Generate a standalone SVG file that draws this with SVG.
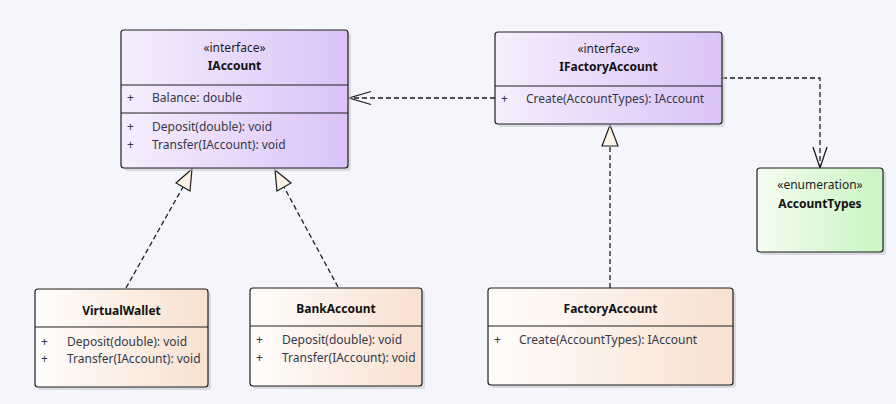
<svg xmlns="http://www.w3.org/2000/svg" width="896" height="404" viewBox="0 0 896 404">
  <defs>
    <linearGradient id="gIface" x1="0" y1="0" x2="1" y2="0">
      <stop offset="0" stop-color="#f6eefd"/>
      <stop offset="1" stop-color="#dbc3f7"/>
    </linearGradient>
    <linearGradient id="gClass" x1="0" y1="0" x2="1" y2="0">
      <stop offset="0" stop-color="#fffdfb"/>
      <stop offset="1" stop-color="#f8e1d0"/>
    </linearGradient>
    <linearGradient id="gEnum" x1="0" y1="0" x2="1" y2="0">
      <stop offset="0" stop-color="#f4fdf1"/>
      <stop offset="1" stop-color="#caf4c2"/>
    </linearGradient>
  </defs>
  <style>
    .shadow { fill: #c8cad0; opacity: 0.6; }
    .box { stroke: #1e1e1e; stroke-width: 1.2; }
    .sep { stroke: #1e1e1e; stroke-width: 1.2; }
    .stereo { font-family: "Noto Sans", "Open Sans", sans-serif; font-size: 12px; fill: #1e1e1e; text-anchor: middle; }
    .title { font-family: "Noto Sans", "Open Sans", sans-serif; font-size: 12px; font-weight: bold; fill: #111; text-anchor: middle; }
    .mem { font-family: "Noto Sans", "Open Sans", sans-serif; font-size: 12px; fill: #33394a; }
    .dash { fill: none; stroke: #1e1e1e; stroke-width: 1.3; stroke-dasharray: 5 3; }
    .head { fill: none; stroke: #1e1e1e; stroke-width: 1.3; }
    .tri { fill: #fdf3e4; stroke: #1e1e1e; stroke-width: 1.2; }
  </style>
  <rect width="896" height="404" fill="#f4f6fb"/>

  <!-- connectors -->
  <g id="connectors">
    <!-- VirtualWallet realizes IAccount -->
    <line class="dash" x1="126" y1="288" x2="183" y2="187"/>
    <polygon class="tri" points="192,169 190,191 176,183"/>
    <!-- BankAccount realizes IAccount -->
    <line class="dash" x1="338" y1="287" x2="284" y2="187"/>
    <polygon class="tri" points="275,170 291,183 277,191"/>
    <!-- FactoryAccount realizes IFactoryAccount -->
    <line class="dash" x1="610" y1="288" x2="610" y2="146"/>
    <polygon class="tri" points="610,125 618,146 602,146"/>
    <!-- IFactoryAccount depends on IAccount -->
    <line class="dash" x1="495" y1="98" x2="350" y2="98"/>
    <polyline class="head" points="371,91.5 349,98 371,104.5"/>
    <!-- IFactoryAccount depends on AccountTypes -->
    <polyline class="dash" points="722,78 820,78 820,167"/>
    <polyline class="head" points="813,147 820,168 827,147"/>
  </g>

  <!-- IAccount -->
  <g id="IAccount">
    <rect class="shadow" x="124" y="33" width="227" height="138" rx="3"/>
    <rect class="box" x="121" y="30" width="227" height="138" rx="3" fill="url(#gIface)"/>
    <line class="sep" x1="121" y1="85" x2="348" y2="85"/>
    <line class="sep" x1="121" y1="113" x2="348" y2="113"/>
    <text class="stereo" x="234.5" y="52">«interface»</text>
    <text class="title" x="234.5" y="70">IAccount</text>
    <text class="mem" x="127" y="102">+</text>
    <text class="mem" x="152" y="102">Balance: double</text>
    <text class="mem" x="127" y="131">+</text>
    <text class="mem" x="152" y="131">Deposit(double): void</text>
    <text class="mem" x="127" y="149">+</text>
    <text class="mem" x="152" y="149">Transfer(IAccount): void</text>
  </g>

  <!-- IFactoryAccount -->
  <g id="IFactoryAccount">
    <rect class="shadow" x="498" y="35" width="227" height="92" rx="3"/>
    <rect class="box" x="495" y="32" width="227" height="92" rx="3" fill="url(#gIface)"/>
    <line class="sep" x1="495" y1="86" x2="722" y2="86"/>
    <text class="stereo" x="608.5" y="53">«interface»</text>
    <text class="title" x="608.5" y="71">IFactoryAccount</text>
    <text class="mem" x="501" y="103">+</text>
    <text class="mem" x="526" y="103">Create(AccountTypes): IAccount</text>
  </g>

  <!-- AccountTypes -->
  <g id="AccountTypes">
    <rect class="shadow" x="760" y="171" width="126" height="84" rx="3"/>
    <rect class="box" x="757" y="168" width="126" height="84" rx="3" fill="url(#gEnum)"/>
    <text class="stereo" x="820" y="189">«enumeration»</text>
    <text class="title" x="820" y="208">AccountTypes</text>
  </g>

  <!-- VirtualWallet -->
  <g id="VirtualWallet">
    <rect class="shadow" x="38" y="292" width="173" height="98" rx="3"/>
    <rect class="box" x="35" y="289" width="173" height="98" rx="3" fill="url(#gClass)"/>
    <line class="sep" x1="35" y1="327" x2="208" y2="327"/>
    <text class="title" x="121.5" y="315">VirtualWallet</text>
    <text class="mem" x="41" y="346">+</text>
    <text class="mem" x="67" y="346">Deposit(double): void</text>
    <text class="mem" x="41" y="363">+</text>
    <text class="mem" x="67" y="363">Transfer(IAccount): void</text>
  </g>

  <!-- BankAccount -->
  <g id="BankAccount">
    <rect class="shadow" x="253" y="291" width="172" height="98" rx="3"/>
    <rect class="box" x="250" y="288" width="172" height="98" rx="3" fill="url(#gClass)"/>
    <line class="sep" x1="250" y1="326" x2="422" y2="326"/>
    <text class="title" x="336" y="313">BankAccount</text>
    <text class="mem" x="256" y="344">+</text>
    <text class="mem" x="282" y="344">Deposit(double): void</text>
    <text class="mem" x="256" y="362">+</text>
    <text class="mem" x="282" y="362">Transfer(IAccount): void</text>
  </g>

  <!-- FactoryAccount -->
  <g id="FactoryAccount">
    <rect class="shadow" x="491" y="291" width="245" height="97" rx="3"/>
    <rect class="box" x="488" y="288" width="245" height="97" rx="3" fill="url(#gClass)"/>
    <line class="sep" x1="488" y1="326" x2="733" y2="326"/>
    <text class="title" x="610.5" y="313">FactoryAccount</text>
    <text class="mem" x="494" y="344">+</text>
    <text class="mem" x="519" y="344">Create(AccountTypes): IAccount</text>
  </g>
</svg>
